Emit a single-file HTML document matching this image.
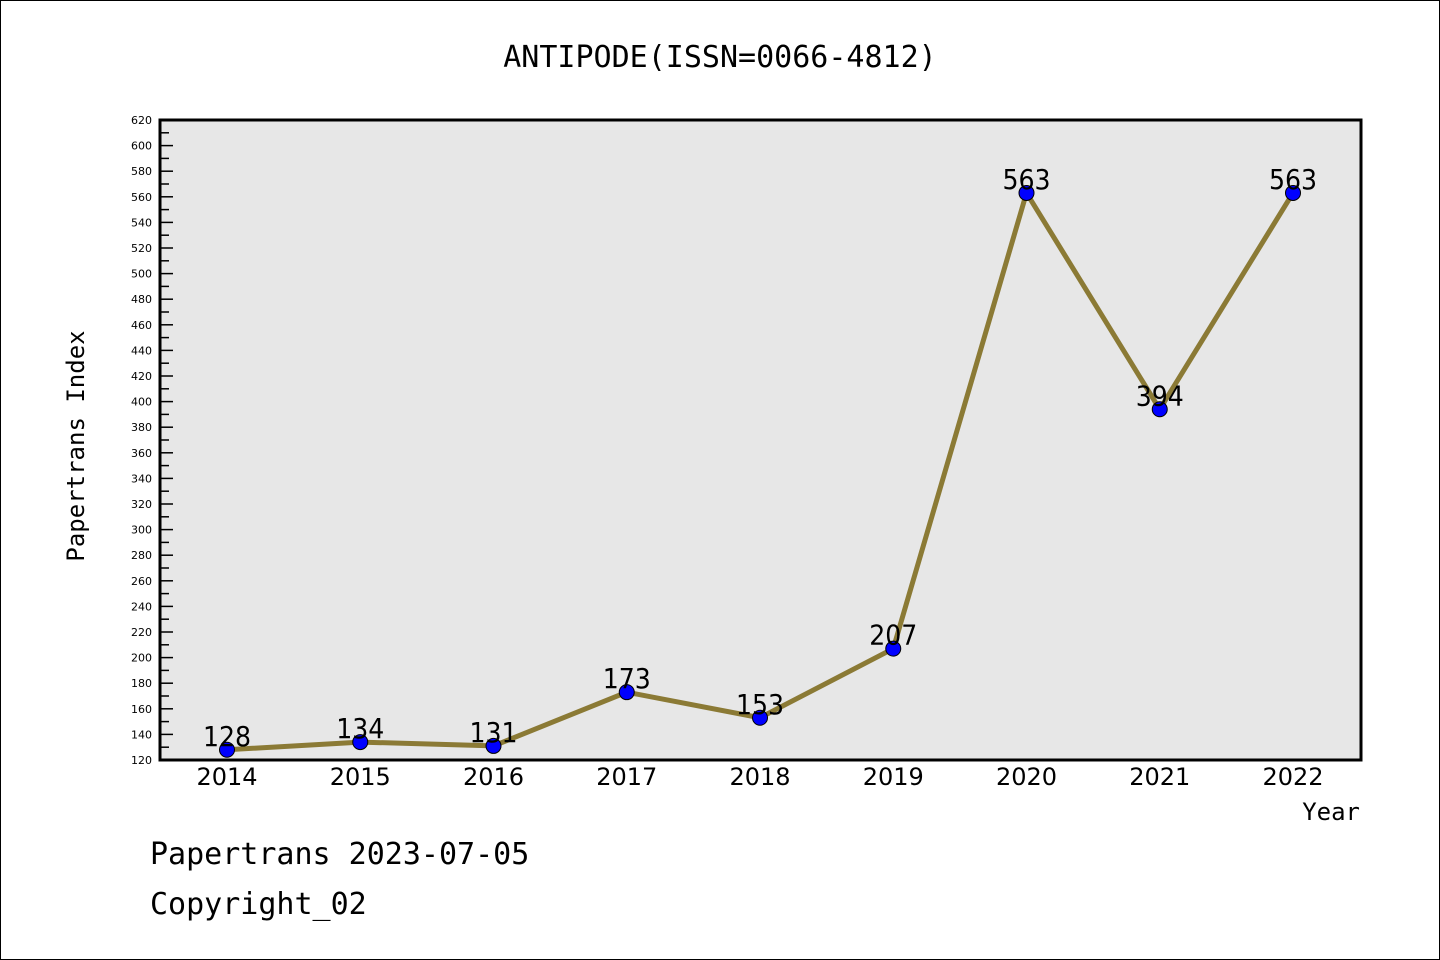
<!DOCTYPE html>
<html><head><meta charset="utf-8"><style>
body{margin:0;background:#fff}
svg{display:block}
text{fill:#000}
</style></head><body>
<svg id="chart" width="1440" height="960" xmlns="http://www.w3.org/2000/svg">
<rect x="0.5" y="0.5" width="1439" height="959" fill="#fff" stroke="#000"/>
<text x="720" y="67" text-anchor="middle" font-size="30" style="font-family:'WenQuanYi Zen Hei',monospace">ANTIPODE(ISSN=0066-4812)</text>
<rect x="160" y="120" width="1201" height="640" fill="#e7e7e7"/>
<g id="yaxis"></g>
<g id="xaxis"></g>
<g id="series"></g>
<rect x="160" y="120" width="1201" height="640" fill="none" stroke="#000" stroke-width="3"/>
<text transform="translate(84,446) rotate(-90)" text-anchor="middle" font-size="24" style="font-family:'WenQuanYi Zen Hei',monospace">Papertrans Index</text>
<text x="1360" y="820" text-anchor="end" font-size="24" style="font-family:'WenQuanYi Zen Hei',monospace">Year</text>
<text x="150" y="864" font-size="30" style="font-family:'WenQuanYi Zen Hei',monospace">Papertrans 2023-07-05</text>
<text x="150" y="914" font-size="30" style="font-family:'WenQuanYi Zen Hei',monospace">Copyright_02</text>
</svg>
<script>
const categories=["2014","2015","2016","2017","2018","2019","2020","2021","2022"];
const values=[128,134,131,173,153,207,563,394,563];
const yTicks=[120,140,160,180,200,220,240,260,280,300,320,340,360,380,400,420,440,460,480,500,520,540,560,580,600,620];
const NS="http://www.w3.org/2000/svg";
const yMin=120,yMax=620,plotTop=120,plotBot=760,x0=227,x1=1293;
const Y=v=>plotBot-(v-yMin)/(yMax-yMin)*(plotBot-plotTop);
const X=i=>x0+i*(x1-x0)/(categories.length-1);
function mk(t,a,p){const e=document.createElementNS(NS,t);for(const k in a)e.setAttribute(k,a[k]);p.appendChild(e);return e;}
const ya=document.getElementById('yaxis'),xa=document.getElementById('xaxis'),se=document.getElementById('series');
const SANS="font-family:'DejaVu Sans',sans-serif";
yTicks.forEach((v,i)=>{
 const l=mk('line',{x1:160,x2:173,y1:Y(v),y2:Y(v),stroke:'#000','stroke-width':1.5},ya);
 
 
 const t=mk('text',{x:152,y:Y(v)+4,'text-anchor':'end','font-size':11,style:SANS},ya);
 t.textContent=v;
 
 
 if(i<yTicks.length-1){
  const m=mk('line',{x1:160,x2:169,y1:Y(v+10),y2:Y(v+10),stroke:'#000','stroke-width':1.5},ya);
  
  
 }
});
categories.forEach((c,i)=>{
 const t=mk('text',{x:X(i),y:785,'text-anchor':'middle','font-size':24,style:SANS},xa);
 t.textContent=c;
 
 
});
const pl=mk('polyline',{points:values.map((v,i)=>X(i)+','+Y(v)).join(' '),fill:'none',stroke:'#8b7a35','stroke-width':5,'stroke-linejoin':'round'},se);


values.forEach((v,i)=>{
 const c=mk('circle',{cx:X(i),cy:Y(v),r:7.5,fill:'#0000ff',stroke:'#000','stroke-width':1},se);
 
 
 const t=mk('text',{x:X(i),y:Y(v)-4,'text-anchor':'middle','font-size':28,style:SANS+';font-stretch:condensed'},se);
 t.textContent=v;
 
 
});
</script>
</body></html>
